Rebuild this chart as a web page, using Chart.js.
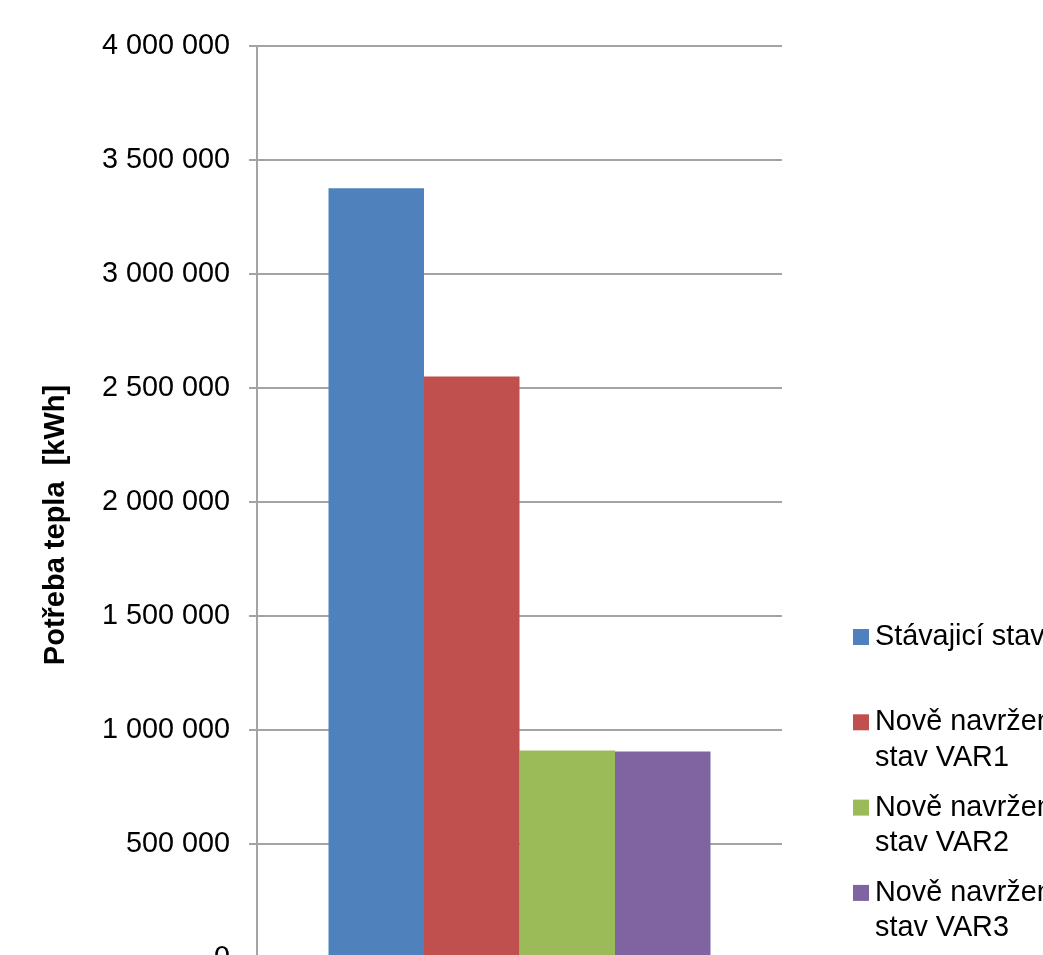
<!DOCTYPE html>
<html>
<head>
<meta charset="utf-8">
<script src="https://cdn.jsdelivr.net/npm/chart.js@4/dist/chart.umd.min.js"></script>
<style>
  html, body { margin: 0; padding: 0; background: #ffffff; overflow: hidden; }
  canvas { display: block; }
</style>
</head>
<body>
<canvas id="chart" width="1043" height="1000"></canvas>
<script>
// Heat demand by variant
const categories = [''];
const seriesLabels = ['Stávajicí stav', 'Nově navržený stav VAR1', 'Nově navržený stav VAR2', 'Nově navržený stav VAR3'];
const seriesValues = [
  [3376000],
  [2550000],
  [910000],
  [906000]
];
const seriesColors = ['#4F81BD', '#C0504D', '#9BBB59', '#8064A2'];
const yTickValues = [0, 500000, 1000000, 1500000, 2000000, 2500000, 3000000, 3500000, 4000000];
const yTitle = 'Potřeba tepla  [kWh]';

const FONT = "'Liberation Sans', Arial, sans-serif";
const GRID = '#a3a3a3';

function formatThousands(v) {
  return String(v).replace(/\B(?=(\d{3})+(?!\d))/g, ' ');
}

function wrapText(ctx, text, maxWidth) {
  const words = text.split(' ');
  const lines = [];
  let line = '';
  for (const w of words) {
    const test = line ? line + ' ' + w : w;
    if (line && ctx.measureText(test).width > maxWidth) {
      lines.push(line);
      line = w;
    } else {
      line = test;
    }
  }
  if (line) lines.push(line);
  return lines;
}

// Axis title and legend on the right side
const sideDecor = {
  id: 'sideDecor',
  afterDraw(chart) {
    const ctx = chart.ctx;
    const area = chart.chartArea;
    ctx.save();
    ctx.fillStyle = '#000000';

    // rotated y-axis title
    ctx.save();
    ctx.translate(56, 525);
    ctx.rotate(-Math.PI / 2);
    ctx.font = 'bold 29px ' + FONT;
    ctx.textAlign = 'center';
    ctx.textBaseline = 'middle';
    ctx.fillText(yTitle, 0, 0);
    ctx.restore();

    // legend
    ctx.font = '28.8px ' + FONT;
    ctx.textAlign = 'left';
    ctx.textBaseline = 'middle';
    const boxX = area.right + 71;
    const textX = boxX + 22;
    const firstY = 637;
    const itemStep = 85.3;
    const lineStep = 35.5;
    chart.data.datasets.forEach((ds, i) => {
      const y0 = firstY + i * itemStep;
      ctx.fillStyle = ds.backgroundColor;
      ctx.fillRect(boxX, y0 - 8, 16, 16);
      ctx.fillStyle = '#000000';
      const lines = wrapText(ctx, ds.label, 220);
      lines.forEach((ln, k) => ctx.fillText(ln, textX, y0 + k * lineStep));
    });
    ctx.restore();
  }
};

const datasets = seriesLabels.map((label, i) => ({
  label: label,
  data: seriesValues[i],
  backgroundColor: seriesColors[i],
  borderWidth: 0,
  barPercentage: 1.0,
  categoryPercentage: 0.7276
}));

new Chart(document.getElementById('chart'), {
  type: 'bar',
  data: { labels: categories, datasets: datasets },
  options: {
    responsive: false,
    animation: false,
    layout: { padding: { left: 0, top: 46, right: 261, bottom: 42 } },
    plugins: {
      legend: { display: false },
      tooltip: { enabled: false }
    },
    scales: {
      x: { display: false },
      y: {
        min: 0,
        max: 4000000,
        afterBuildTicks(scale) {
          scale.ticks = yTickValues.map(v => ({ value: v }));
        },
        afterFit(scale) { scale.width = 257; },
        border: { display: true, color: GRID, width: 2 },
        grid: { color: GRID, lineWidth: 2, drawTicks: true, tickLength: 8, tickColor: GRID },
        ticks: {
          padding: 19,
          color: '#000000',
          font: { family: FONT, size: 28.8 },
          callback: (v) => formatThousands(v)
        }
      }
    }
  },
  plugins: [sideDecor]
});
</script>
</body>
</html>
